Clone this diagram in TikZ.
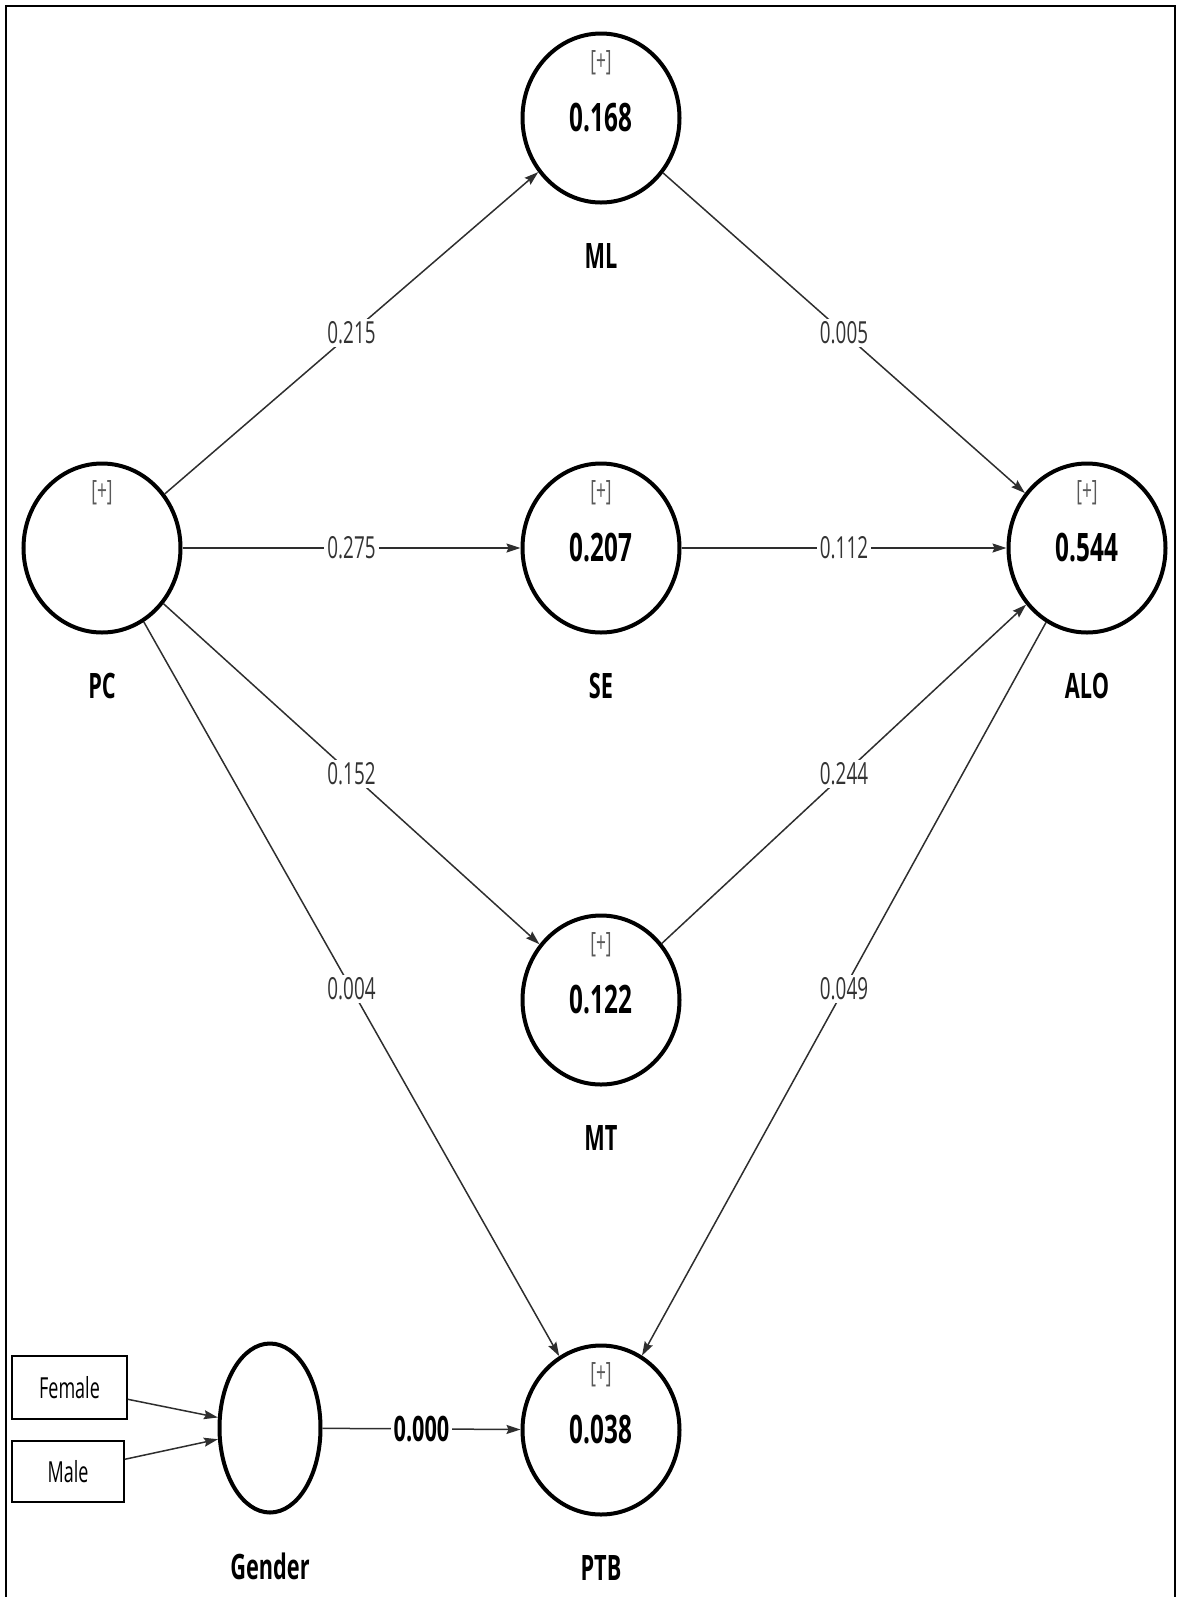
\documentclass[tikz,border=0pt]{standalone}
\usepackage{fontspec}
\setmainfont[FakeStretch=0.62]{Open Sans}
\usepackage{xcolor}
\definecolor{edgegray}{HTML}{2E2E2E}
\definecolor{coefgray}{HTML}{333333}
\usepackage{tikz}
\usetikzlibrary{arrows.meta,positioning,shapes.geometric}

\begin{document}
\begin{tikzpicture}[
  x=0.5pt, y=-0.5pt,
  LV/.style={ellipse, draw, line width=2pt, minimum width=78.5pt,
    minimum height=84.5pt, inner sep=0pt,
    font=\fontsize{19.6}{20}\selectfont\bfseries},
  MV/.style={draw, line width=0.8pt, minimum width=57.5pt,
    minimum height=31.5pt, inner sep=0pt,
    font=\fontsize{14.5}{15}\selectfont},
  nm/.style={font=\fontsize{17.5}{18}\selectfont\bfseries},
  plus/.style={font=\fontsize{14}{14}\selectfont, text=black!65},
  cname/.style={label={[nm, yshift=-69pt]center:#1}},
  rsq/.style={label={[plus, yshift=27.5pt]center:{[+]}}},
  coef/.style={fill=white, inner sep=1.5pt, text=coefgray,
    font=\fontsize{15.2}{16}\selectfont},
  arr/.style={-{Stealth[length=7pt, width=4.5pt, inset=1pt]},
    line width=0.75pt, edgegray}
]
  \useasboundingbox (0,0) rectangle (1184,1597);
  \draw[line width=1.2pt] (6,1597) -- (6,6) -- (1175,6) -- (1175,1597);

  % constructs
  \node[LV, rsq, cname=PC] (PC) at (102,548) {};
  \node[LV, rsq, cname=ML] (ML) at (601,118) {0.168};
  \node[LV, rsq, cname=SE] (SE) at (601,548) {0.207};
  \node[LV, rsq, cname=MT] (MT) at (601,1000) {0.122};
  \node[LV, rsq, cname=ALO] (ALO) at (1087,548) {0.544};
  \node[LV, rsq, cname=PTB] (PTB) at (601,1430) {0.038};
  \node[LV, cname=Gender, minimum width=50.5pt] (G) at (270,1428) {};

  % indicators
  \node[MV] (fem) at (69.5,1387.5) {Female};
  \node[MV, minimum width=56pt, minimum height=30.5pt] (male) at (68,1471.5) {Male};

  % paths
  \draw[arr] (PC) -- node[coef] {0.215} (ML);
  \draw[arr] (PC) -- node[coef] {0.275} (SE);
  \draw[arr] (PC) -- node[coef] {0.152} (MT);
  \draw[arr] (PC) -- node[coef] {0.004} (PTB);
  \draw[arr] (ML) -- node[coef] {0.005} (ALO);
  \draw[arr] (SE) -- node[coef] {0.112} (ALO);
  \draw[arr] (MT) -- node[coef] {0.244} (ALO);
  \draw[arr] (ALO) -- node[coef] {0.049} (PTB);
  \draw[arr] (G) -- node[coef, text=black, font=\fontsize{17.5}{18}\selectfont\bfseries] {0.000} (PTB);
  \draw[arr] (fem) -- (G);
  \draw[arr] (male) -- (G);
\end{tikzpicture}
\end{document}
